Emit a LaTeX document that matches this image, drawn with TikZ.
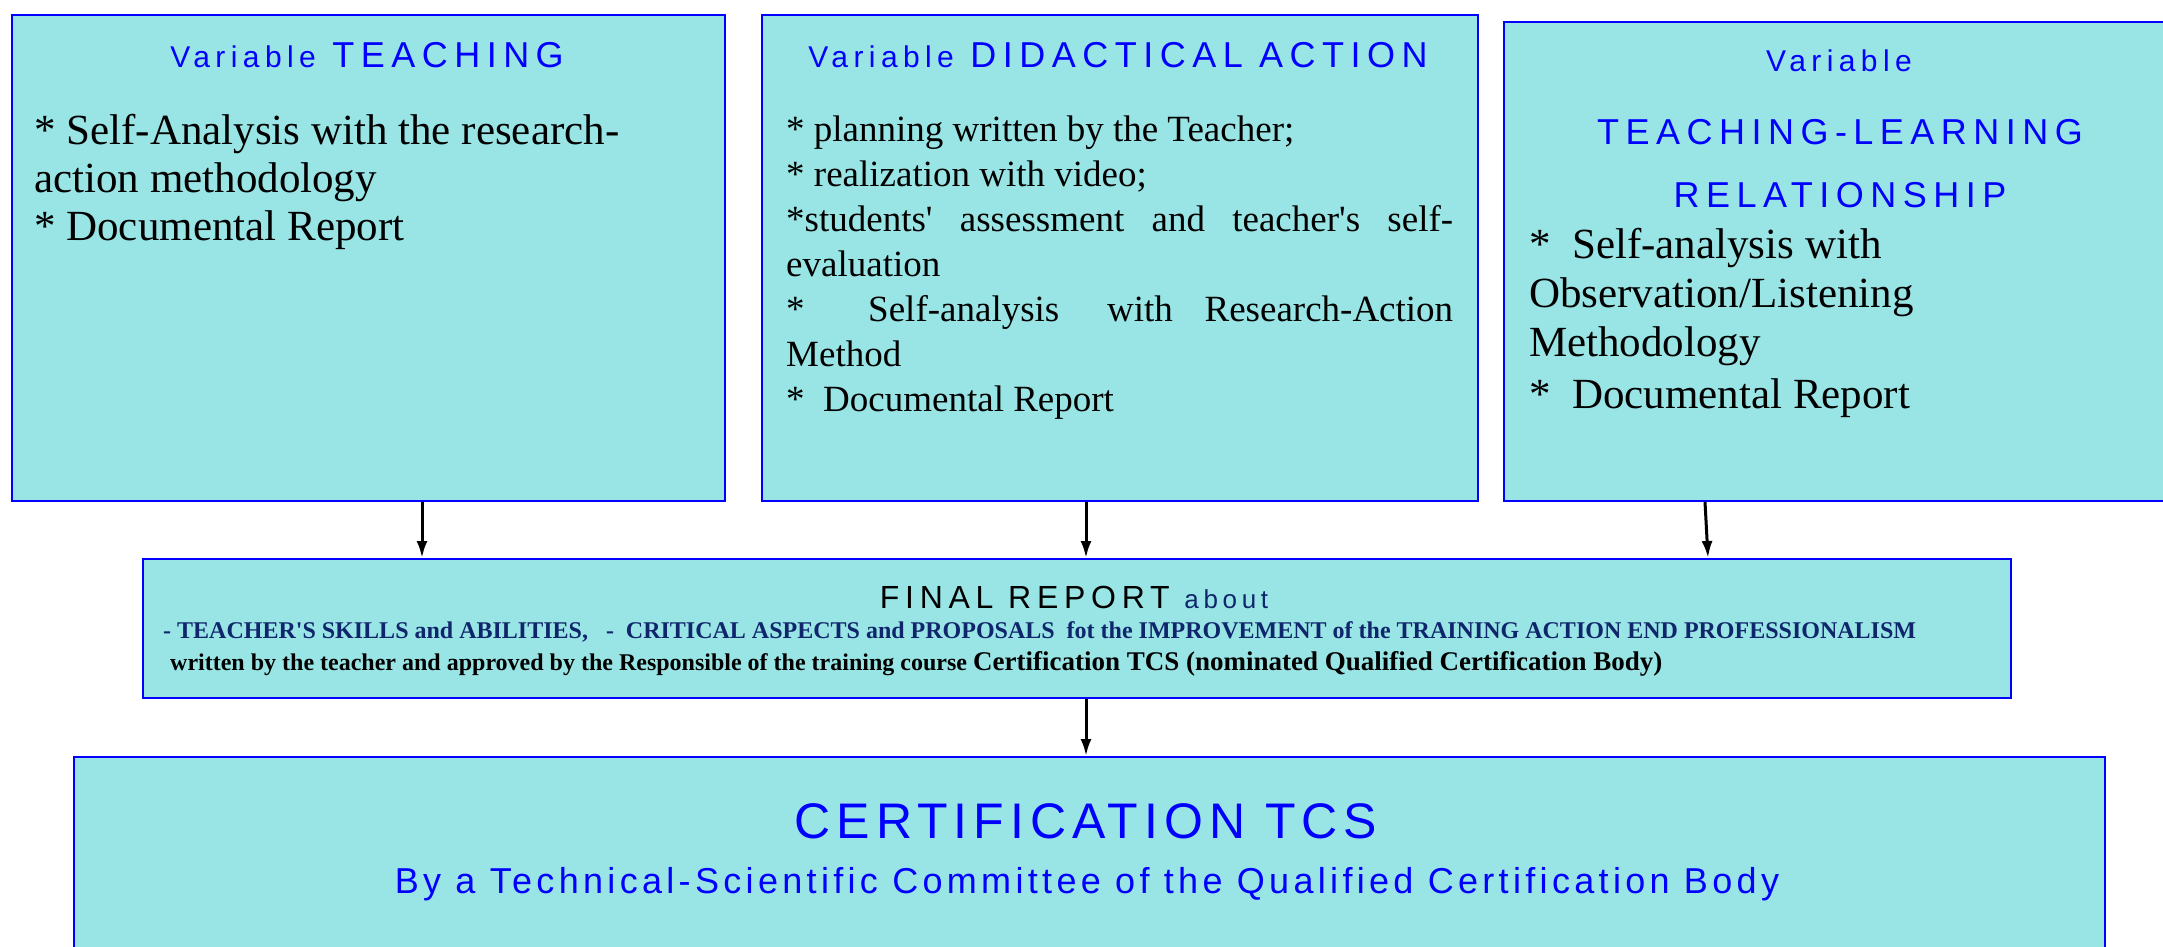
\documentclass[tikz,border=0pt]{standalone}
\usepackage{fontspec}
\usepackage{tikz}
\usetikzlibrary{arrows.meta}
\setmainfont{Liberation Serif}
\newfontfamily\capfont[LetterSpace=18]{Liberation Sans}
\newfontfamily\certfont[LetterSpace=12]{Liberation Sans}
\definecolor{boxfill}{RGB}{153,229,230}
\definecolor{navy}{RGB}{16,38,108}
\newcommand{\varword}{{\fontsize{30}{36}\selectfont Variable}}
\newcommand{\q}{\textquotesingle}

\begin{document}
\begin{tikzpicture}[x=1pt,y=-1pt,
    varbox/.style={draw=blue, line width=2pt, fill=boxfill, anchor=north west, inner sep=0pt},
    head/.style={text=blue, inner sep=0pt, font=\capfont\fontsize{36}{63}\selectfont},
    body/.style={anchor=north west, align=left, inner sep=0pt},
    down/.style={-{Latex[length=17pt,width=11pt]}, line width=3pt}]
  \useasboundingbox (0,0) rectangle (2163,947);
  % the three variables
  \node[varbox, minimum width=713pt, minimum height=486pt] (teach) at (11,14) {};
  \node[varbox, minimum width=716pt, minimum height=486pt] (didact) at (761,14) {};
  \node[varbox, minimum width=680pt, minimum height=479pt] (relat) at (1503,21) {};
  \node[head] (teachtitle) at (367,55) {\varword\ TEACHING};
  \node[head] (didtitle) at (1118,55) {\varword\ DIDACTICAL ACTION};
  \node[head] (relvar) at (1839,61) {\varword};
  \node[head, align=center] (reltitle) at (1840,164) {TEACHING-LEARNING\\RELATIONSHIP};
  \node[body, font=\fontsize{43}{48}\selectfont] (teachlist) at (34,114)
    {* Self-Analysis with the research-\\action methodology\\* Documental Report};
  \node[body, text width=667pt, align=justify, font=\fontsize{37}{45}\selectfont] (didlist) at (786,116)
    {{*} planning written by the Teacher;\\
     {*} realization with video;\\
     {*}students\q\ assessment and teacher\q s self-\linebreak evaluation\\
     {*} \ \ \ Self-analysis \ \ with \ Research-Action\linebreak Method\\
     {*} \ Documental Report};
  \node[body, font=\fontsize{43}{49}\selectfont] (rellist) at (1529,228)
    {* \ Self-analysis with\\Observation/Listening\\Methodology\\[3pt]* \ Documental Report};
  % final report
  \node[varbox, minimum width=1868pt, minimum height=139pt] (final) at (142,558) {};
  \node[inner sep=0pt, font=\capfont\fontsize{32}{36}\selectfont] (finaltitle) at (1074,597)
    {FINAL REPORT {\color{navy}\fontsize{26}{30}\selectfont about}};
  \node[anchor=base west, inner sep=0pt, text=navy, font=\bfseries\fontsize{24}{30}\selectfont] (finalaims) at (163,638)
    {- TEACHER\q S SKILLS and ABILITIES, \ \ - \ CRITICAL ASPECTS and PROPOSALS \ fot the IMPROVEMENT of the TRAINING ACTION END PROFESSIONALISM};
  \node[anchor=base west, inner sep=0pt, font=\bfseries\fontsize{24}{30}\selectfont] (finalby) at (170,670)
    {written by the teacher and approved by the Responsible of the training course {\fontsize{27}{30}\selectfont Certification TCS (nominated Qualified Certification Body)}};
  % certification
  \node[varbox, minimum width=2031pt, minimum height=220pt] (cert) at (73,756) {};
  \node[text=blue, inner sep=0pt, font=\certfont\fontsize{50}{56}\selectfont] (certtitle) at (1086,821) {CERTIFICATION TCS};
  \node[text=blue, inner sep=0pt, font=\certfont\fontsize{36}{40}\selectfont] (certby) at (1087,884)
    {By a Technical-Scientific Committee of the Qualified Certification Body};
  % arrows
  \coordinate (a1) at (422,0);
  \coordinate (a2) at (1086,0);
  \coordinate (a3) at (1705,0);
  \coordinate (a3end) at (1708,0);
  \draw[down] (teach.south -| a1) -- (final.north -| a1);
  \draw[down] (didact.south -| a2) -- (final.north -| a2);
  \draw[down] (relat.south -| a3) -- (final.north -| a3end);
  \draw[down] (final.south -| a2) -- (cert.north -| a2);
\end{tikzpicture}
\end{document}
